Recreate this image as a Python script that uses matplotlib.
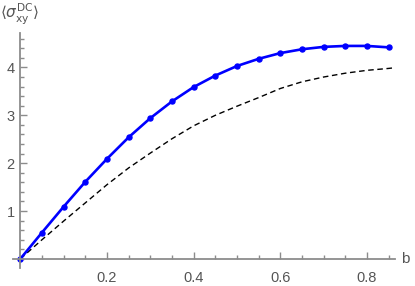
import numpy as np
import matplotlib
matplotlib.use("Agg")
from matplotlib import pyplot as plt
from matplotlib.ticker import MultipleLocator, FixedLocator

plt.rcParams['font.family'] = ['Liberation Sans', 'DejaVu Sans']
plt.rcParams['mathtext.fontset'] = 'dejavusans'

# blue data points
b_pts = [0.0, 0.05, 0.1, 0.15, 0.2, 0.25, 0.3, 0.35, 0.4, 0.45,
         0.5, 0.55, 0.6, 0.65, 0.7, 0.75, 0.8, 0.85]
sig_pts = [0.0, 0.55, 1.09, 1.61, 2.09, 2.54, 2.94, 3.29, 3.59, 3.83,
           4.03, 4.18, 4.30, 4.38, 4.43, 4.45, 4.45, 4.42]

# dashed reference curve
b_ref = [0.0, 0.05, 0.1, 0.15, 0.2, 0.25, 0.3, 0.35, 0.4, 0.45,
         0.5, 0.55, 0.6, 0.65, 0.7, 0.75, 0.8, 0.85, 0.87]
sig_ref = [0.0, 0.40, 0.79, 1.17, 1.55, 1.90, 2.21, 2.51, 2.78, 3.00,
           3.19, 3.37, 3.56, 3.70, 3.80, 3.88, 3.94, 3.98, 4.00]

x_major = [0.2, 0.4, 0.6, 0.8]
y_major = [1, 2, 3, 4]

W, H = 415, 286
fig = plt.figure(figsize=(W / 100, H / 100), dpi=100)
ax = fig.add_axes([13 / W, (H - 268) / H, (395 - 13) / W, (268 - 33) / H])

ax.plot(b_ref, sig_ref, color='black', lw=1.0, dashes=(4, 2.6))
ax.plot(b_pts, sig_pts, color=(0, 0, 1), lw=1.9, marker='o', ms=3.6)

ax.set_xlim(-0.0168, 0.8648)
ax.set_ylim(-0.19, 4.72)

axis_col = '#8c8c8c'
for side in ['top', 'right']:
    ax.spines[side].set_visible(False)
for side in ['left', 'bottom']:
    ax.spines[side].set_position(('data', 0))
    ax.spines[side].set_color(axis_col)
    ax.spines[side].set_linewidth(1.3)
ax.spines['left'].set_bounds(-0.19, 4.72)
ax.spines['bottom'].set_bounds(-0.0168, 0.8648)

ax.xaxis.set_major_locator(FixedLocator(x_major))
ax.xaxis.set_minor_locator(MultipleLocator(0.05))
ax.yaxis.set_major_locator(FixedLocator(y_major))
ax.yaxis.set_minor_locator(MultipleLocator(0.2))
ax.set_xticklabels([str(v) for v in x_major])
ax.set_yticklabels([str(v) for v in y_major])

ax.tick_params(which='both', direction='in', color=axis_col, width=1.0,
               labelcolor='#555555', labelsize=10.5)
ax.tick_params(which='major', length=5)
ax.tick_params(which='minor', length=2.6)
ax.tick_params(axis='x', which='major', pad=9)
ax.tick_params(axis='y', which='major', pad=4)

fig.text(405 / W, 1 - 259 / H, 'b', ha='center', va='center',
         color='#555555', fontsize=11)
fig.text(20 / W, 1 - 14 / H, r'$\langle\sigma_{\rm xy}^{\rm DC}\rangle$',
         ha='center', va='center', color='#555555', fontsize=11)

fig.savefig('out.png', dpi=100)
